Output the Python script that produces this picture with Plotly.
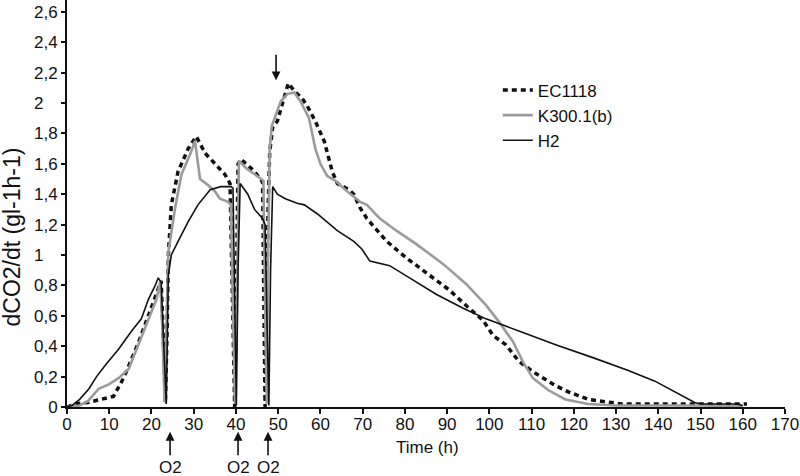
import plotly.graph_objects as go

# ---- data ----
ec_x = [0, 2, 5, 8, 11, 13, 14, 17, 20, 21.6, 22.3, 22.8, 23.3, 23.7, 24, 24.7, 26.3, 28.7, 30.6,
        32.7, 35, 37.4, 38.6, 39.2, 39.7, 40.1, 40.5, 41.2, 44.4, 46.3, 46.6, 46.9, 47.3, 47.6,
        48, 48.7, 49.8, 51.4, 52.4, 53.8, 55.7, 56.9, 58.8, 60.9, 62.8, 64, 66.8, 67.9, 69.4,
        71, 75.7, 80.4, 85.1, 90.5, 95.2, 98.5, 100.9, 103.9, 107, 111, 115.7, 118.7, 123.4,
        131.4, 140, 150, 161]
ec_y = [0, 0.02, 0.03, 0.05, 0.07, 0.17, 0.23, 0.43, 0.65, 0.78, 0.83, 0.45, 0.03, 0.5, 1.0, 1.33,
        1.55, 1.70, 1.78, 1.67, 1.60, 1.53, 1.47, 0.7, 0.0, 0.8, 1.6, 1.63, 1.55, 1.48, 0.7, 0.0,
        0.7, 1.3, 1.68, 1.84, 1.88, 2.03, 2.13, 2.08, 2.03, 1.98, 1.88, 1.75, 1.55, 1.47, 1.43,
        1.40, 1.31, 1.24, 1.09, 0.98, 0.88, 0.77, 0.65, 0.57, 0.47, 0.41, 0.30, 0.22, 0.14, 0.10,
        0.05, 0.02, 0.02, 0.02, 0.02]

k_x = [0, 3, 5, 7.5, 10, 12.2, 14.6, 16.5, 18.6, 21.2, 22.1, 22.6, 23.1, 23.5, 24, 25.6, 27.1,
       29.4, 30.3, 31.5, 33.4, 35, 36.2, 38.1, 38.8, 39.4, 39.8, 40.3, 40.7, 42.5, 44.4, 46.5,
       47.0, 47.3, 47.6, 48.0, 48.5, 50.6, 52.2, 53.8, 55.3, 57.3, 58.8, 60, 61.6, 63.5, 66.3,
       69.4, 71, 74.1, 78, 82.8, 89.1, 94.5, 99.2, 102.3, 105.6, 107.9, 110.3, 114, 118, 123.4,
       130, 140, 150, 160]
k_y = [0, 0.01, 0.04, 0.12, 0.15, 0.19, 0.25, 0.38, 0.52, 0.71, 0.83, 0.5, 0.03, 0.4, 1.02, 1.31,
       1.53, 1.68, 1.75, 1.50, 1.46, 1.42, 1.37, 1.35, 1.33, 0.5, 0.02, 0.8, 1.62, 1.57, 1.53,
       1.49, 0.5, 0.02, 1.0, 1.7, 1.85, 2.01, 2.06, 2.07, 2.01, 1.90, 1.70, 1.60, 1.52, 1.49,
       1.42, 1.35, 1.33, 1.24, 1.16, 1.07, 0.94, 0.81, 0.67, 0.56, 0.43, 0.30, 0.19, 0.11, 0.05,
       0.02, 0.01, 0.01, 0.01, 0.005]

h_x = [0, 1.2, 3, 5.2, 7, 9.2, 12.2, 15.3, 17.6, 19.3, 20.9, 21.6, 22.3, 23.0, 23.5, 24.0, 24.7,
       26.3, 28.7, 31, 33.9, 36.4, 38.8, 39.3, 39.8, 40.1, 40.5, 41.0, 42.8, 44.4, 46.3, 46.9,
       47.4, 47.8, 48.2, 48.7, 49.8, 51.7, 54.5, 56.2, 59.3, 64, 67.9, 69.8, 71.7, 73.4, 76.4,
       81.1, 87.5, 93.8, 99.2, 107, 115.7, 125, 132.9, 139.2, 144.6, 148.6, 150, 158.7, 160]
h_y = [0, 0.01, 0.05, 0.12, 0.2, 0.28, 0.38, 0.50, 0.58, 0.71, 0.80, 0.85, 0.82, 0.4, 0.02, 0.87,
       1.0, 1.09, 1.22, 1.33, 1.43, 1.45, 1.45, 1.44, 0.5, 0.01, 0.9, 1.47, 1.40, 1.30, 1.24,
       1.20, 0.5, 0.01, 0.9, 1.45, 1.40, 1.37, 1.34, 1.33, 1.27, 1.16, 1.09, 1.04, 0.96, 0.95,
       0.93, 0.85, 0.74, 0.65, 0.58, 0.50, 0.41, 0.32, 0.24, 0.17, 0.09, 0.03, 0.02, 0.02, 0.01]

x_ticks = list(range(0, 171, 10))
y_ticks = [0, 0.2, 0.4, 0.6, 0.8, 1.0, 1.2, 1.4, 1.6, 1.8, 2.0, 2.2, 2.4, 2.6]
y_labels = ["0", "0,2", "0,4", "0,6", "0,8", "1\u00a0\u00a0\u00a0", "1,2", "1,4", "1,6", "1,8",
            "2\u00a0\u00a0\u00a0", "2,2", "2,4", "2,6"]
o2_x = [24.4, 40.5, 47.6]
peak_arrow_x = 49.5
peak_arrow_y = 2.15

FONT = "Liberation Sans, Arial, sans-serif"
FS = 17

fig = go.Figure()
fig.add_trace(go.Scatter(x=ec_x, y=ec_y, mode="lines", name="EC1118",
                         line=dict(color="#111111", width=3.5, dash="5px,4px")))
fig.add_trace(go.Scatter(x=k_x, y=k_y, mode="lines", name="K300.1(b)",
                         line=dict(color="#9b9b9b", width=2.6)))
fig.add_trace(go.Scatter(x=h_x, y=h_y, mode="lines", name="H2",
                         line=dict(color="#111111", width=1.6)))

annotations = []
annotations.append(dict(text="dCO2/dt (gl-1h-1)", xref="paper", yref="y", x=-0.076, y=1.118,
                        showarrow=False, textangle=-90, font=dict(size=23, color="#111"),
                        xanchor="center", yanchor="middle"))
annotations.append(dict(text="Time (h)", xref="x", yref="paper", x=85.4, y=-0.10,
                        showarrow=False, font=dict(size=FS, color="#111"),
                        xanchor="center", yanchor="middle"))
for xv in o2_x:
    annotations.append(dict(text="", xref="x", yref="paper", x=xv, y=-0.061,
                            showarrow=True, ax=0, ay=25, arrowhead=2, arrowsize=1.1,
                            arrowwidth=1.6, arrowcolor="#111"))
    annotations.append(dict(text="O2", xref="x", yref="paper", x=xv, y=-0.148,
                            showarrow=False, font=dict(size=FS, color="#111"),
                            xanchor="center", yanchor="middle"))
annotations.append(dict(text="", xref="x", yref="y", x=peak_arrow_x, y=peak_arrow_y,
                        showarrow=True, ax=0, ay=-27, arrowhead=2, arrowsize=1.1,
                        arrowwidth=1.6, arrowcolor="#111"))

fig.update_layout(
    width=800, height=476,
    margin=dict(l=67, r=15, t=0, b=69),
    paper_bgcolor="white", plot_bgcolor="white",
    font=dict(family=FONT, size=FS, color="#111"),
    showlegend=True,
    legend=dict(x=0.6, y=0.822, xanchor="left", yanchor="top", bgcolor="rgba(0,0,0,0)",
                font=dict(size=FS), tracegroupgap=4),
    annotations=annotations,
    xaxis=dict(range=[0, 170], tickvals=x_ticks, showgrid=False, zeroline=False,
               showline=True, linecolor="#111", linewidth=2, ticks="outside", ticklen=5,
               tickwidth=1.5, tickcolor="#111", tickfont=dict(size=FS), ticklabelstandoff=-4),
    yaxis=dict(range=[0, 2.678], tickvals=y_ticks, ticktext=y_labels, showgrid=False,
               zeroline=False, showline=True, linecolor="#111", linewidth=2, ticks="outside",
               ticklen=4, tickwidth=1.5, tickcolor="#111", tickfont=dict(size=FS)),
)

fig.write_html("out.html", config={"displayModeBar": False},
               post_script="document.body.style.margin='0';document.body.style.overflow='hidden';")
